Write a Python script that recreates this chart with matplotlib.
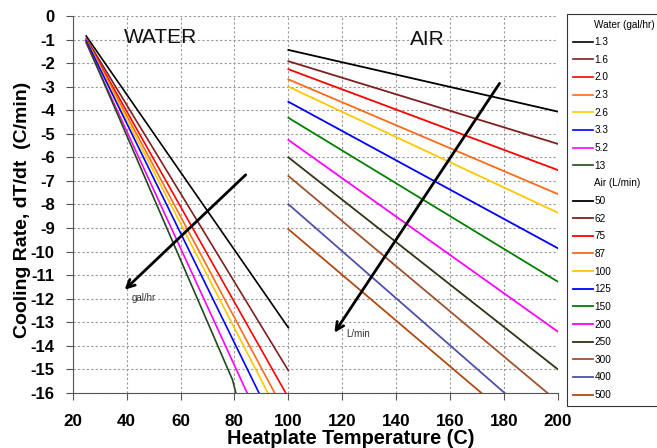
import matplotlib
matplotlib.use("Agg")
import matplotlib.pyplot as plt
from matplotlib.lines import Line2D

plt.rcParams['font.family'] = ['Liberation Sans', 'DejaVu Sans']

# Water series (gal/hr): temperature points and cooling rates
water_labels = ["1.3", "1.6", "2.0", "2.3", "2.6", "3.3", "5.2", "13"]
water_colors = ["#000000", "#7F1F1F", "#FF0000", "#FF6A1A", "#FFC800", "#0000FF", "#FF00FF", "#1E4A1E"]
water_x = [[25, 100], [25, 100], [25, 99.0], [25, 94.9], [25, 92.4], [25, 89.1], [25, 84.7], [25, 79.3, 80.5]]
water_y = [[-0.85, -13.23], [-0.95, -15.05], [-1.0, -16], [-1.0, -16], [-1.05, -16], [-1.05, -16], [-1.15, -16], [-1.1, -15.45, -16]]

# Air series (L/min)
air_labels = ["50", "62", "75", "87", "100", "125", "150", "200", "250", "300", "400", "500"]
air_colors = ["#000000", "#7F1F1F", "#FF0000", "#FF6A1A", "#FFC800", "#0000FF", "#008000", "#FF00FF", "#333316", "#A0522D", "#5050A8", "#B04A10"]
air_x = [[100, 200], [100, 200], [100, 200], [100, 200], [100, 200], [100, 200], [100, 200], [100, 200], [100, 200], [100, 196.1], [100, 180.2], [100, 171.6]]
air_y = [[-1.44, -4.06], [-1.92, -5.43], [-2.26, -6.54], [-2.69, -7.56], [-3.0, -8.35], [-3.64, -9.86], [-4.32, -11.28], [-5.26, -13.4], [-6.0, -15.0], [-6.79, -16], [-7.99, -16], [-9.05, -16]]

x_ticks = [20, 40, 60, 80, 100, 120, 140, 160, 180, 200]
y_ticks = list(range(0, -17, -1))

fig = plt.figure(figsize=(6.57, 4.48), dpi=100)
ax = fig.add_axes([0.1107, 0.1228, 0.7386, 0.8415])

handles = [Line2D([], [], linestyle="none", marker=None)]
labels = ["Water (gal/hr)"]
for xs, ys, c, lab in zip(water_x, water_y, water_colors, water_labels):
    h, = ax.plot(xs, ys, color=c, lw=1.2)
    handles.append(h); labels.append(lab)
handles.append(Line2D([], [], linestyle="none", marker=None))
labels.append("Air (L/min)")
for xs, ys, c, lab in zip(air_x, air_y, air_colors, air_labels):
    h, = ax.plot(xs, ys, color=c, lw=1.3)
    handles.append(h); labels.append(lab)

ax.set_xlim(20, 200)
ax.set_ylim(-16, 0)
ax.set_xticks(x_ticks)
ax.set_yticks(y_ticks)
ax.set_xticklabels([str(v) for v in x_ticks], fontsize=12.3, fontweight="bold")
ax.set_yticklabels([str(v) for v in y_ticks], fontsize=12, fontweight="bold")
ax.grid(True, color="#999999", linestyle=(0, (2, 2)), lw=0.8)
ax.set_axisbelow(True)
for s in ["top", "right"]:
    ax.spines[s].set_visible(False)
for s in ["left", "bottom"]:
    ax.spines[s].set_color("#555555")
ax.tick_params(direction="out", length=5, color="#555555")
ax.tick_params(axis="x", pad=10)
ax.tick_params(axis="y", pad=8)
ax.set_xlabel("Heatplate Temperature (C)", fontsize=14.3, fontweight="bold")
ax.xaxis.set_label_coords(0.573, -0.0955)
ax.set_ylabel("Cooling Rate, dT/dt  (C/min)", fontsize=14, fontweight="bold")
ax.yaxis.set_label_coords(-0.087, 0.487)

ax.text(39.0, -0.93, "WATER", fontsize=15, ha="left", va="center", color="#111111")
ax.text(151.4, -1.0, "AIR", fontsize=15, ha="center", va="center", color="#111111")

ax.annotate("", xy=(38.5, -11.7), xytext=(84.9, -6.66),
            arrowprops=dict(arrowstyle="->", color="black", lw=2, mutation_scale=14))
ax.text(42.0, -11.95, "gal/hr", fontsize=7, color="#333333", ha="left", va="center")
ax.annotate("", xy=(116.5, -13.54), xytext=(178.9, -2.76),
            arrowprops=dict(arrowstyle="->", color="black", lw=2, mutation_scale=14))
ax.text(121.5, -13.5, "L/min", fontsize=7, color="#333333", ha="left", va="center")

top = 1 - 14 / 448
leg = fig.legend(handles, labels, loc="upper left",
                 bbox_to_anchor=(567 / 657, 0.05, 0.2, top - 0.05),
                 fontsize=7.2, frameon=True, fancybox=False, handlelength=2.0,
                 handletextpad=0.2, labelspacing=0.765, borderaxespad=0.0,
                 borderpad=0.55, mode="expand")
leg.get_frame().set_edgecolor("black")
leg.get_frame().set_linewidth(0.8)

fig.savefig("out.png", dpi=100)
